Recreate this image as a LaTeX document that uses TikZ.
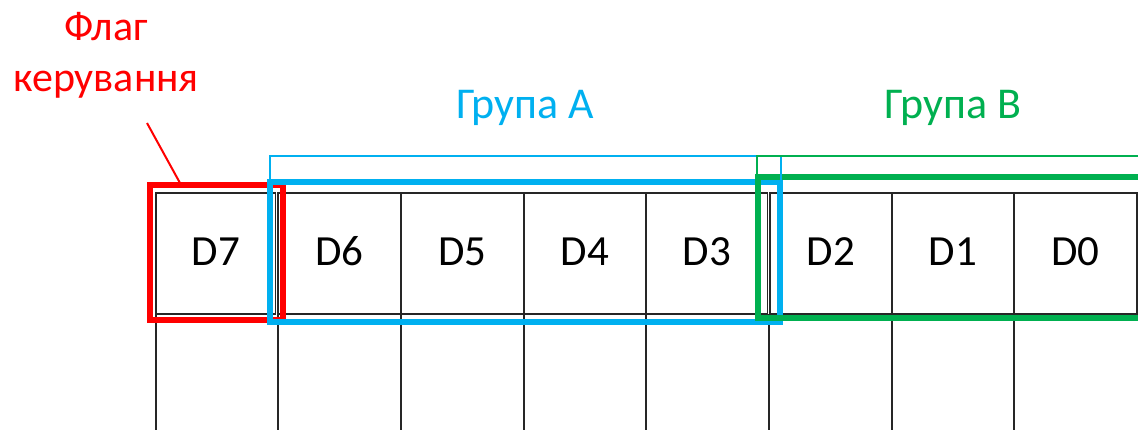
\documentclass[tikz,border=0pt]{standalone}
\usepackage{fontspec}
\setmainfont{Carlito}
\definecolor{cred}{HTML}{FF0000}
\definecolor{cblue}{HTML}{00B0F0}
\definecolor{cgreen}{HTML}{00B050}
\begin{document}
\begin{tikzpicture}[x=1pt,y=-1pt,
  cell/.style={draw=black!85,line width=1.3pt,rectangle,inner sep=0pt,minimum height=121pt,
    text height=27pt,text depth=4pt,font=\fontsize{43}{43}\selectfont},
  grp/.style={draw,rectangle,inner sep=0pt,line width=6pt},
  thin/.style={line width=2pt},
  grid/.style={draw=black!85,line width=1.3pt},
  lbl/.style={inner sep=0pt,font=\fontsize{44}{51}\selectfont,align=center}]
\useasboundingbox (0,0) rectangle (1138,429);
% cells
\node[cell,minimum width=119.5pt] (d7) at (215.75,253.5) {D7};
\node[cell,minimum width=123pt] (d6) at (339.5,253.5) {D6};
\node[cell,minimum width=123pt] (d5) at (462.5,253.5) {D5};
\node[cell,minimum width=122pt] (d4) at (585,253.5) {D4};
\node[cell,minimum width=121.5pt] (d3) at (706.75,253.5) {D3};
\node[cell,minimum width=122pt] (d2) at (831,253.5) {D2};
\node[cell,minimum width=122pt] (d1) at (953,253.5) {D1};
\node[cell,minimum width=123pt] (d0) at (1075.5,253.5) {D0};
% lower grid lines
\foreach \n/\x in {a/156,b/278,c/401,d/524,e/646,f/769,g/892,h/1014}{
  \coordinate (t\n) at (\x,314);
  \coordinate (b\n) at (\x,432);
  \draw[grid] (t\n) -- (b\n);
}
% group boxes
\node[grp,draw=cred,minimum width=133pt,minimum height=135pt] (flagbox) at (216.5,252.5) {};
\node[grp,draw=cblue,minimum width=510pt,minimum height=140pt] (boxA) at (524.5,252) {};
\node[grp,draw=cgreen,minimum width=390pt,minimum height=141pt] (boxB) at (952.5,247) {};
% brackets
\coordinate (a1) at (270,182);
\coordinate (a2) at (270,156);
\coordinate (a3) at (781,156);
\coordinate (a4) at (781,182);
\draw[thin,cblue] (a1) -- (a2) -- (a3) -- (a4);
\coordinate (b1) at (757,176);
\coordinate (b2) at (757,156);
\coordinate (b3) at (1145,156);
\draw[thin,cgreen] (b1) -- (b2) -- (b3);
% labels
\node[lbl,text=cred,font=\fontsize{42}{51}\selectfont] (flag) at (106,55) {Флаг\\керування};
\node[lbl,text=cblue,anchor=base] (ga) at (525,118) {Група А};
\node[lbl,text=cgreen,anchor=base] (gb) at (953,118) {Група В};
% leader
\coordinate (l1) at (147,123);
\coordinate (l2) at (180,183);
\draw[cred,line width=2pt] (l1) -- (l2);
\end{tikzpicture}
\end{document}
